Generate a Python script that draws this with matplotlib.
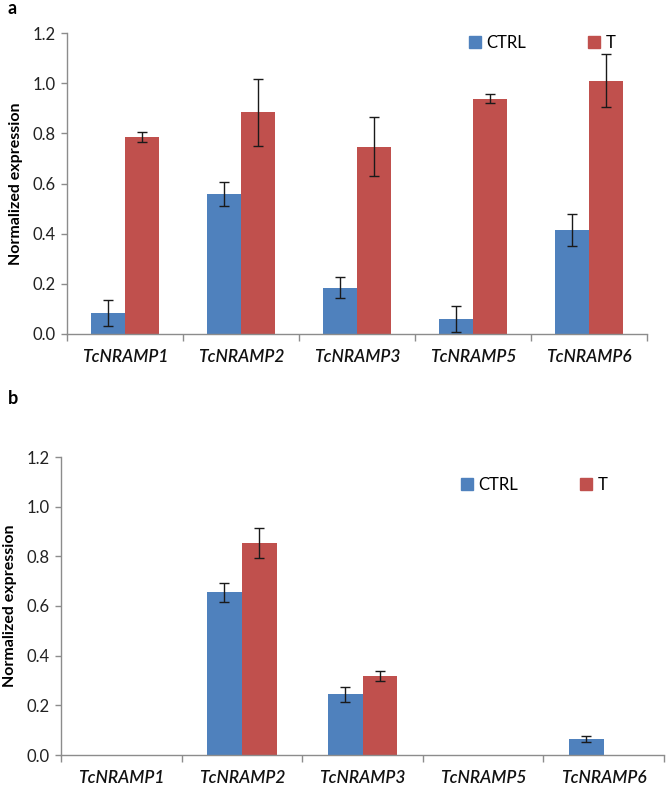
import matplotlib
matplotlib.use("Agg")
import matplotlib.pyplot as plt
import numpy as np
from matplotlib.patches import Patch

genes = ["TcNRAMP1", "TcNRAMP2", "TcNRAMP3", "TcNRAMP5", "TcNRAMP6"]
series = ["CTRL", "T"]

a_ctrl = [0.084, 0.558, 0.185, 0.061, 0.416]
a_ctrl_err = [0.052, 0.048, 0.043, 0.052, 0.064]
a_t = [0.787, 0.884, 0.746, 0.938, 1.010]
a_t_err = [0.020, 0.133, 0.118, 0.019, 0.107]

b_ctrl = [0.0, 0.655, 0.245, 0.0, 0.063]
b_ctrl_err = [0.0, 0.039, 0.030, 0.0, 0.012]
b_t = [0.0, 0.854, 0.318, 0.0, 0.0]
b_t_err = [0.0, 0.060, 0.020, 0.0, 0.0]

yticks = [0.0, 0.2, 0.4, 0.6, 0.8, 1.0, 1.2]

blue = "#4F81BD"
red = "#C0504D"
grey = "#8C8C8C"

plt.rcParams["font.family"] = ["Lato", "DejaVu Sans"]

fig = plt.figure(figsize=(6.66, 7.87), dpi=100)

W, H = 666.0, 787.0


def make_axes(left, right, top, bottom):
    return fig.add_axes([left / W, 1 - bottom / H, (right - left) / W, (bottom - top) / H])


def draw(ax, ctrl, ctrl_err, t, t_err, legend_xy):
    x = np.arange(len(genes))
    bw = 0.29
    ax.bar(x - bw / 2, ctrl, bw, color=blue, label=series[0], zorder=2)
    ax.bar(x + bw / 2, t, bw, color=red, label=series[1], zorder=2)
    for xs, vals, errs in ((x - bw / 2, ctrl, ctrl_err), (x + bw / 2, t, t_err)):
        for xi, v, e in zip(xs, vals, errs):
            if v > 0:
                ax.errorbar(xi, v, yerr=e, fmt="none", ecolor="#1a1a1a",
                            elinewidth=1.0, capsize=3.5, capthick=1.0, zorder=3)
    ax.set_xlim(-0.5, len(genes) - 0.5)
    ax.set_ylim(0, 1.2)
    ax.set_yticks(yticks)
    ax.set_yticklabels([f"{v:.1f}" for v in yticks], fontsize=12, color="#222222")
    ax.set_xticks(np.arange(len(genes) + 1) - 0.5)
    ax.set_xticklabels([])
    ax.set_xticks(x, minor=True)
    ax.set_xticklabels(genes, minor=True, fontsize=12.5, style="italic",
                       fontweight="semibold", color="#111111")
    ax.tick_params(axis="x", which="minor", length=0, pad=11)
    ax.tick_params(axis="x", which="major", length=5, color=grey, width=1)
    ax.tick_params(axis="y", length=4, color=grey, width=1, pad=4)
    for s in ("top", "right"):
        ax.spines[s].set_visible(False)
    for s in ("left", "bottom"):
        ax.spines[s].set_color(grey)
        ax.spines[s].set_linewidth(1)
    ax.set_ylabel("Normalized expression", fontsize=11.5, fontweight="bold", labelpad=7)
    handles = [Patch(color=blue), Patch(color=red)]
    ax.legend(handles, series, loc="center left",
              bbox_to_anchor=(legend_xy[0] / W, 1 - legend_xy[1] / H),
              bbox_transform=fig.transFigure, ncol=2, frameon=False,
              handlelength=0.7, handleheight=0.7, handletextpad=0.35,
              columnspacing=3.7, fontsize=12, borderaxespad=0, borderpad=0)


ax1 = make_axes(67, 647, 33, 334)
draw(ax1, a_ctrl, a_ctrl_err, a_t, a_t_err, (469, 43))
ax2 = make_axes(61, 664, 457, 755)
draw(ax2, b_ctrl, b_ctrl_err, b_t, b_t_err, (461, 485))

fig.text(8 / W, 1 - 9 / H, "a", fontsize=13, fontweight="bold", va="center", ha="left")
fig.text(8 / W, 1 - 399 / H, "b", fontsize=13, fontweight="bold", va="center", ha="left")

fig.savefig("out.png", dpi=100)
